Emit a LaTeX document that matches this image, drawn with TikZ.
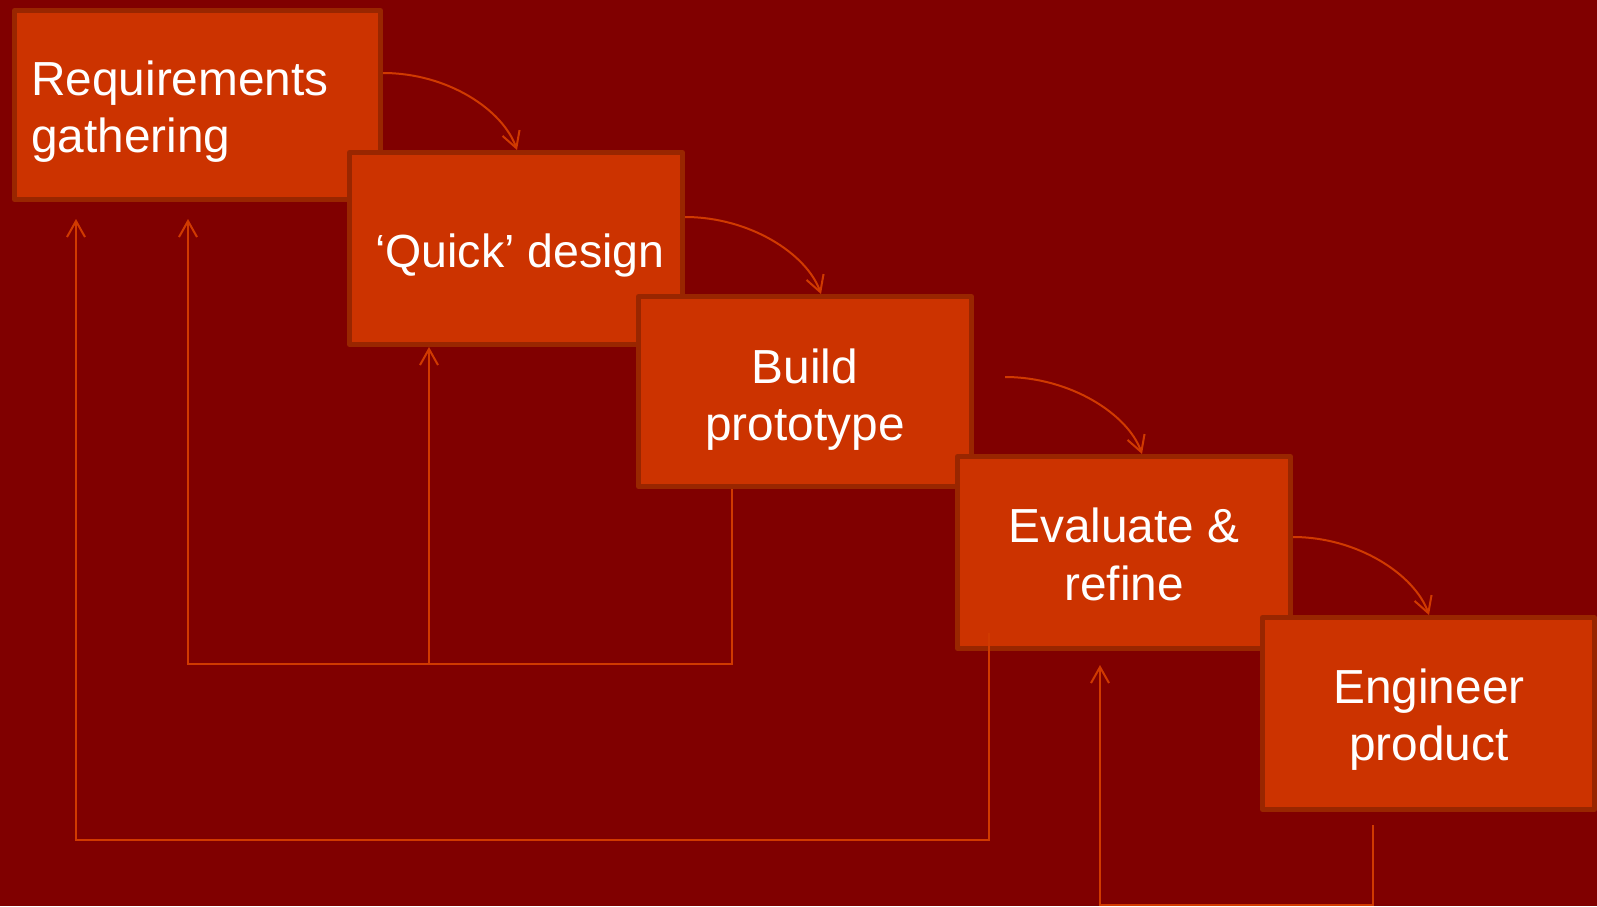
\documentclass[tikz,border=0pt]{standalone}
\usepackage{fontspec}
\setmainfont{Liberation Sans}
\usetikzlibrary{arrows.meta}
\definecolor{bgred}{HTML}{800000}
\definecolor{boxfill}{HTML}{CC3300}
\definecolor{boxedge}{HTML}{992600}
\definecolor{wire}{HTML}{D03A00}
\setlength{\tabcolsep}{0pt}

\begin{document}
\begin{tikzpicture}[x=1pt,y=-1pt,
  stage/.style={draw=boxedge, fill=boxfill, line width=5pt, line join=round, inner sep=0pt},
  stagetext/.style={text=white, inner sep=0pt, anchor=base, font=\fontsize{47.8}{57.5}\selectfont},
  flow/.style={draw=wire, line width=2pt, -{Straight Barb[length=16pt,width=18pt]}}]

% page
\fill[bgred] (0,0) rectangle (1597,906);
\useasboundingbox (0,0) rectangle (1597,906);

% process stages, each one overlapping the previous
\node[stage, minimum width=366pt, minimum height=189pt] (b1) at (197.5,105) {};
\node[stage, minimum width=333pt, minimum height=192pt] (b2) at (516,248.5) {};
\node[stage, minimum width=333pt, minimum height=190pt] (b3) at (805,391.5) {};
\node[stage, minimum width=333pt, minimum height=192pt] (b4) at (1124,552.5) {};
\node[stage, minimum width=332pt, minimum height=192pt] (b5) at (1428.5,713.5) {};

% stage captions
\node[stagetext, anchor=base west] (t1) at (31,95)
  {\begin{tabular}[t]{l}Requirements\\gathering\end{tabular}};
\node[stagetext, font=\fontsize{46.5}{57.5}\selectfont] (t2) at (520,267) {‘Quick’ design};
\node[stagetext] (t3) at (805,383)
  {\begin{tabular}[t]{c}Build\\prototype\end{tabular}};
\node[stagetext] (t4) at (1124,542.5)
  {\begin{tabular}[t]{c}Evaluate \&\\refine\end{tabular}};
\node[stagetext] (t5) at (1429,703)
  {\begin{tabular}[t]{c}Engineer\\product\end{tabular}};

% forward steps
\draw[flow] ([yshift=-65pt]b1.north east) .. controls +(65,0) and +(-14,-40) .. ([xshift=1pt]b2.north);
\draw[flow] ([yshift=-67pt]b2.north east) .. controls +(65,0) and +(-14,-40) .. ([xshift=16pt]b3.north);
\draw[flow] ([xshift=31pt,yshift=-83pt]b3.north east) .. controls +(65,0) and +(-14,-40) .. ([xshift=18pt]b4.north);
\draw[flow] ([yshift=-83pt]b4.north east) .. controls +(65,0) and +(-14,-40) .. ([xshift=0.5pt]b5.north);

% feedback loops
\coordinate (busA) at (0,664);
\coordinate (tipQ) at ([xshift=-87pt]b2.south);
\draw[flow] ([xshift=-73pt]b3.south) -- ++(0,175) -| ([xshift=-9.5pt,yshift=-17pt]b1.south);
\draw[flow] (tipQ |- busA) -- (tipQ);

\draw[flow] ([xshift=-135pt,yshift=18pt]b4.south) -- ++(0,207) -| ([xshift=-121.5pt,yshift=-17pt]b1.south);

\draw[flow] ([xshift=-55.5pt,yshift=-13pt]b5.south) -- ++(0,80) -| ([xshift=-24pt,yshift=-14pt]b4.south);
\end{tikzpicture}
\end{document}
